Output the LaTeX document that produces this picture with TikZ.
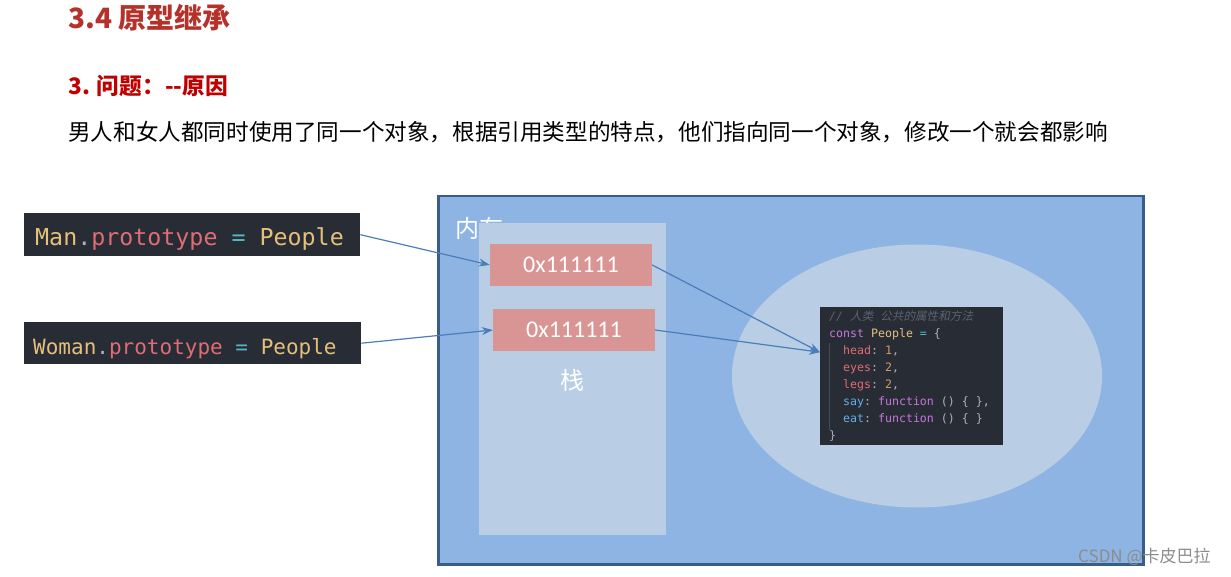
\documentclass[tikz,border=0pt]{standalone}
\usepackage{fontspec}
\setmainfont{Noto Sans CJK SC}
\newfontfamily\cjk{Noto Sans CJK SC}
\newfontfamily\cjkslant[FakeSlant=0.2]{Noto Sans CJK SC}
\newfontfamily\codefont{DejaVu Sans Mono}
\newfontfamily\latinfont{Carlito}
\usetikzlibrary{arrows.meta,positioning,shapes.geometric}
\definecolor{memblue}{HTML}{8EB4E3}
\definecolor{memedge}{HTML}{385D8A}
\definecolor{stackblue}{HTML}{B9CDE5}
\definecolor{addrred}{HTML}{D99594}
\definecolor{linkblue}{HTML}{4A7EBB}
\definecolor{codebg}{HTML}{282C34}
\definecolor{cyel}{HTML}{E5C07B}
\definecolor{cred}{HTML}{E06C75}
\definecolor{ccyan}{HTML}{56B6C2}
\definecolor{cpurple}{HTML}{C678DD}
\definecolor{corange}{HTML}{D19A66}
\definecolor{cblue}{HTML}{61AFEF}
\definecolor{cgrey}{HTML}{ABB2BF}
\definecolor{ccomment}{HTML}{5C6370}
\definecolor{cguide}{HTML}{474C57}
\definecolor{titlered}{HTML}{B5322A}
\definecolor{subred}{HTML}{C00000}
\newcommand{\cyel}[1]{\textcolor{cyel}{#1}}
\newcommand{\cred}[1]{\textcolor{cred}{#1}}
\newcommand{\ccyan}[1]{\textcolor{ccyan}{#1}}
\newcommand{\ckw}[1]{\textcolor{cpurple}{#1}}
\newcommand{\cnum}[1]{\textcolor{corange}{#1}}
\newcommand{\cfn}[1]{\textcolor{cblue}{#1}}
\newcommand{\sz}{\hspace*{0.602em}}
\newcommand{\ind}{\sz\sz}
\tikzset{
  kod/.style={fill=codebg,anchor=north west,inner ysep=0pt,align=left,text=cgrey},
  adres/.style={fill=addrred,minimum width=162pt,minimum height=42pt,inner sep=0pt,text=white,
                font=\latinfont\fontsize{24}{28}\selectfont},
  felirat/.style={text=white,inner sep=0pt,font=\cjk\fontsize{24}{28}\selectfont},
  nyil/.style={-{Stealth[length=11pt,width=8pt]},draw=linkblue,line width=1.2pt},
}

\begin{document}
\begin{tikzpicture}[x=1pt,y=-1pt]
  \useasboundingbox (0,0) rectangle (1231,577);
  % headings
  \node[anchor=west,inner sep=0pt,text=titlered,font=\bfseries\fontsize{28}{32}\selectfont] (cim) at (68,18) {3.4 原型继承};
  \node[anchor=west,inner sep=0pt,text=subred,font=\bfseries\fontsize{22.7}{26}\selectfont] (alcim) at (68,86) {3. 问题：-{}-原因};
  \node[anchor=west,inner sep=0pt,font=\fontsize{22.6}{26}\selectfont] (leiras) at (68,132)
    {男人和女人都同时使用了同一个对象，根据引用类型的特点，他们指向同一个对象，修改一个就会都影响};
  % memory
  \node[anchor=north west,fill=memblue,draw=memedge,line width=2.5pt,minimum width=705pt,
        minimum height=368pt,inner sep=0pt] (mem) at (437,195) {};
  \node[felirat,anchor=west] (memcim) at (455,228) {内存};
  \node[anchor=north west,fill=stackblue,minimum width=187pt,minimum height=312pt,inner sep=0pt] (stack) at (479,223) {};
  \node[adres] (a1) at (571,265) {0x111111};
  \node[adres] (a2) at (574,330) {0x111111};
  \node[felirat] (stackcim) at (572,380) {栈};
  \node[ellipse,fill=stackblue,minimum width=370pt,minimum height=263pt,inner sep=0pt] (heap) at (917,376) {};
  % object code
  \node[kod,inner xsep=9pt,text width=165pt,minimum height=138pt,
        font=\codefont\fontsize{11.6}{17}\selectfont] (people) at (820,307) {%
    \textcolor{ccomment}{\itshape //\sz{\cjkslant 人类\sz 公共的属性和方法}}\\
    \ckw{const}\sz\cyel{People}\sz\ccyan{=}\sz\{\\
    \ind\cred{head}:\sz\cnum{1},\\
    \ind\cred{eyes}:\sz\cnum{2},\\
    \ind\cred{legs}:\sz\cnum{2},\\
    \ind\cfn{say}:\sz\ckw{function}\sz()\sz\{\sz\},\\
    \ind\cfn{eat}:\sz\ckw{function}\sz()\sz\{\sz\}\\
    \}};
  \draw[cguide,line width=0.8pt] ([xshift=9pt,yshift=-36pt]people.north west) -- ([xshift=9pt,yshift=15pt]people.south west);
  \coordinate (talalat) at ([yshift=24pt]people.west);
  % prototype lines
  \node[kod,inner xsep=11pt,text width=314pt,minimum height=43pt,text height=22pt,text depth=1pt,
        font=\codefont\fontsize{23.3}{28}\selectfont] (man) at (24,213)
    {\cyel{Man}.\cred{prototype}\sz\ccyan{=}\sz\cyel{People}};
  \node[kod,inner xsep=9pt,text width=319pt,minimum height=42pt,text height=23pt,text depth=1pt,
        font=\codefont\fontsize{21}{26}\selectfont] (woman) at (24,322)
    {\cyel{Woman}.\cred{prototype}\sz\ccyan{=}\sz\cyel{People}};
  \draw[nyil] (man.east) -- (a1.west);
  \draw[nyil] (woman.east) -- (a2.west);
  \draw[nyil] (a1.east) -- (talalat);
  \draw[nyil] (a2.east) -- (talalat);
  % watermark
  \node[anchor=west,inner sep=0pt,text=black!45,font=\fontsize{17}{20}\selectfont] (jel) at (1078,557) {CSDN @卡皮巴拉};
\end{tikzpicture}
\end{document}
